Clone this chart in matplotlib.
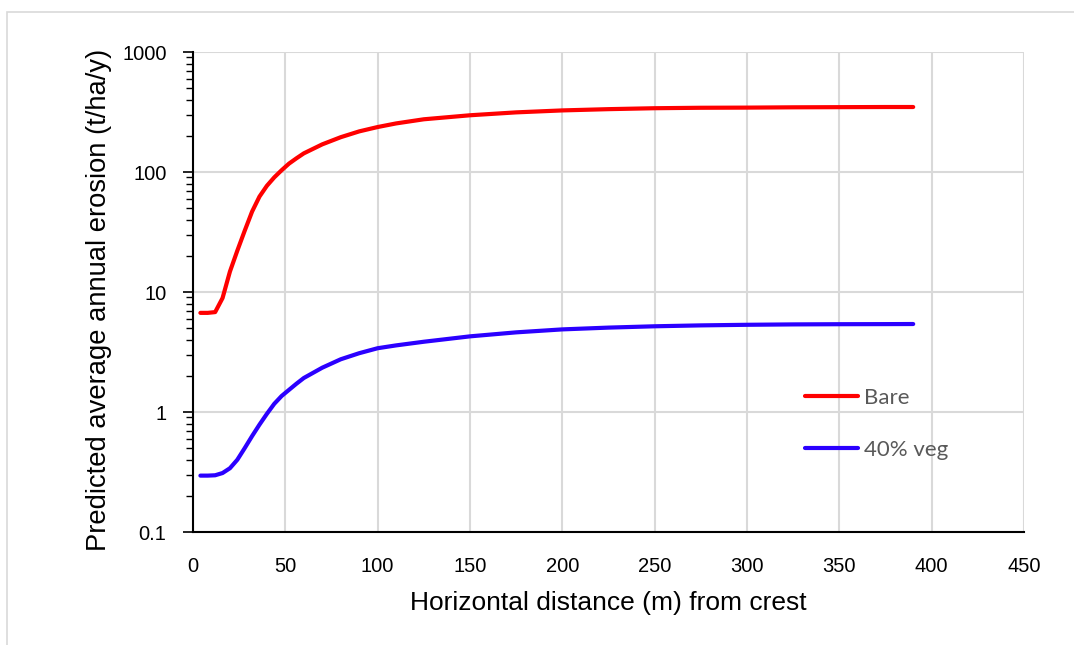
import matplotlib
matplotlib.use("Agg")
import matplotlib.pyplot as plt
from matplotlib.patches import Rectangle
from matplotlib.ticker import LogLocator, NullFormatter, FixedLocator, FixedFormatter

# Data
distance = [4, 8, 12, 16, 20, 24, 28, 32, 36, 40, 44, 48, 52, 56, 60, 70, 80, 90,
            100, 110, 125, 150, 175, 200, 225, 250, 275, 300, 325, 350, 375, 390]
bare = [6.7, 6.7, 6.8, 8.9, 14.8, 22.1, 32.4, 46.8, 62.4, 76.7, 90.2, 103.5, 117.5, 130, 143,
        170, 195, 218, 237, 254, 275, 297, 314, 326, 334, 340, 343, 344, 346, 347, 348, 348]
veg40 = [0.295, 0.295, 0.297, 0.31, 0.34, 0.40, 0.50, 0.63, 0.785, 0.965, 1.17, 1.36, 1.53,
         1.72, 1.92, 2.34, 2.75, 3.09, 3.40, 3.59, 3.85, 4.27, 4.61, 4.88, 5.05, 5.18, 5.27,
         5.33, 5.37, 5.39, 5.40, 5.41]
series_labels = ["Bare", "40% veg"]
x_ticks = [0, 50, 100, 150, 200, 250, 300, 350, 400, 450]
y_ticks = [0.1, 1, 10, 100, 1000]
y_tick_labels = ["0.1", "1", "10", "100", "1000"]

plt.rcParams['font.family'] = ['Liberation Sans', 'DejaVu Sans']

fig = plt.figure(figsize=(10.74, 6.45), dpi=100)
fig.patches.append(Rectangle((7 / 1074, -0.1), 1.2, 1.1 - 12 / 645, transform=fig.transFigure,
                             facecolor='none', edgecolor='#d9d9d9', linewidth=1.2))
ax = fig.add_axes([193 / 1074, 1 - 532 / 645, (1024 - 193) / 1074, 480 / 645])

ax.plot(distance, bare, color='#FF0000', lw=3.0, solid_capstyle='round',
        solid_joinstyle='round', label=series_labels[0])
ax.plot(distance, veg40, color='#2B00FF', lw=3.0, solid_capstyle='round',
        solid_joinstyle='round', label=series_labels[1])

ax.set_yscale('log')
ax.set_ylim(0.1, 1000)
ax.set_xlim(0, 450)
ax.xaxis.set_major_locator(FixedLocator(x_ticks))
ax.yaxis.set_major_locator(FixedLocator(y_ticks))
ax.yaxis.set_major_formatter(FixedFormatter(y_tick_labels))
ax.yaxis.set_minor_locator(LogLocator(base=10, subs=range(2, 10)))
ax.yaxis.set_minor_formatter(NullFormatter())

ax.grid(True, which='major', color='#d9d9d9', lw=1.5)
ax.set_axisbelow(True)
for s in ['top', 'right']:
    ax.spines[s].set_visible(False)
for s in ['left', 'bottom']:
    ax.spines[s].set_color('black')
    ax.spines[s].set_linewidth(1.5)

ax.tick_params(axis='x', which='both', length=0, pad=18, labelsize=14.5)
ax.tick_params(axis='y', which='major', length=7, width=1.2, direction='out', pad=12, labelsize=14.5)
ax.tick_params(axis='y', which='minor', length=5, width=1.0, direction='out')

ax.set_xlabel("Horizontal distance (m) from crest", fontsize=19, labelpad=11)
ax.set_ylabel("Predicted average annual erosion (t/ha/y)", fontsize=19.7)
ax.yaxis.set_label_coords(-0.097, 0.483)

leg = ax.legend(loc='upper left', bbox_to_anchor=(0.736, 0.30), frameon=False,
                borderpad=0, borderaxespad=0, handlelength=2.4, handletextpad=0.27,
                labelspacing=1.45, prop={'family': ['Lato', 'DejaVu Sans'], 'size': 16})
for t in leg.get_texts():
    t.set_color('#595959')

fig.savefig("out.png", dpi=100)
